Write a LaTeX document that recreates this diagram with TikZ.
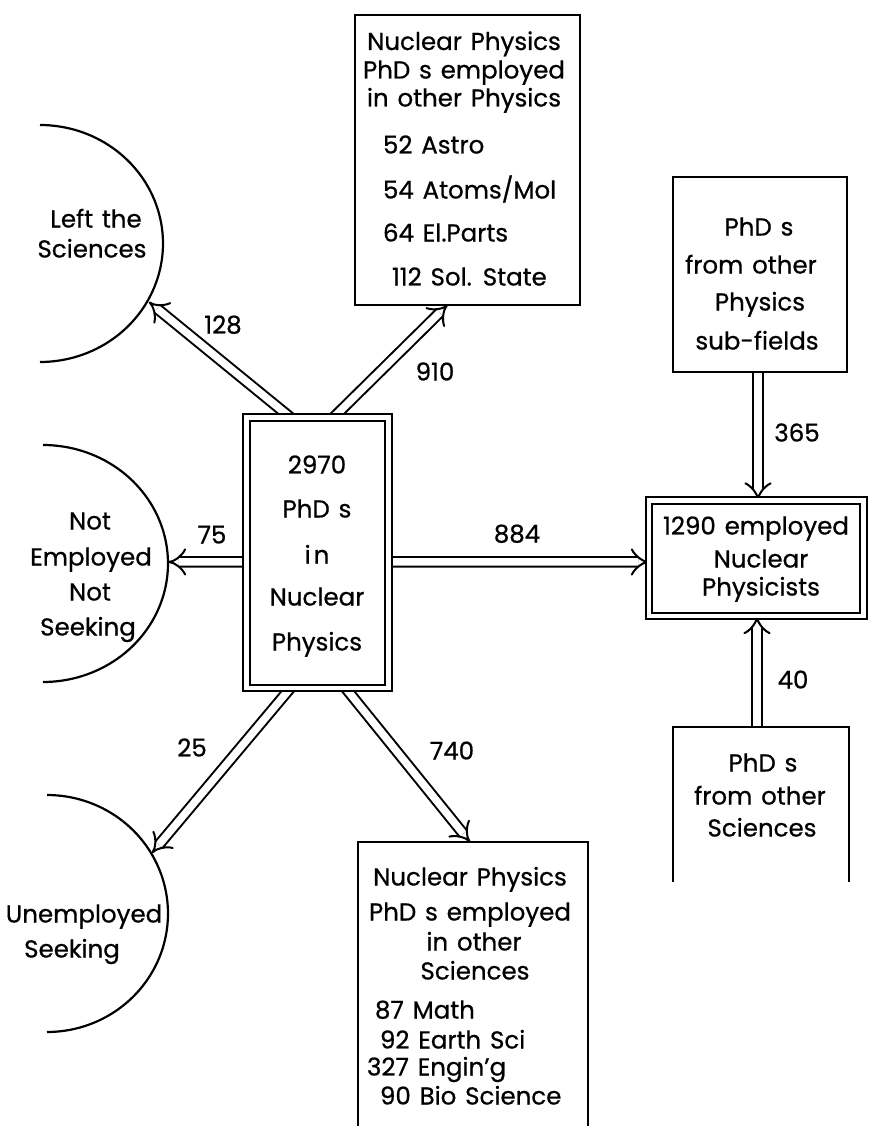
\documentclass[tikz,border=0pt]{standalone}
\usepackage{fontspec}
\setmainfont{Poppins}[FakeBold=0.7]
\usetikzlibrary{arrows.meta,backgrounds}
\newcommand\lnfont{\fontsize{24.5}{24.5}\selectfont\spaceskip=0.36em\relax}
\begin{document}
\begin{tikzpicture}[x=1pt,y=-1pt,
  every node/.style={inner sep=0pt, outer sep=0pt},
  ln/.style={font=\lnfont, text height=17pt, text depth=0pt},
  lnw/.style={ln, anchor=west},
  sbox/.style={draw, line width=2.2pt},
  dbox/.style={draw, double, double distance=4.5pt, line width=2pt},
  sline/.style={line width=2.2pt},
  flow/.style={draw, line width=2pt, double, double distance=7.5pt, -{Implies}}
]
\useasboundingbox (0,0) rectangle (868,1126);

% boxes
\node[dbox, minimum width=142pt, minimum height=270.5pt] (c) at (317.5,552.75) {};
\node[dbox, minimum width=214.5pt, minimum height=115.5pt] (emp) at (756.25,558.25) {};
\node[sbox, minimum width=225pt, minimum height=290pt] (top) at (467.5,160) {};
\node[sbox, minimum width=174pt, minimum height=195pt] (rt) at (760,274.5) {};
\draw[sline] (673,882) -- (673,727) -- (849,727) -- (849,882);
\coordinate (rb) at (757,727);
\draw[sline] (358,1132) -- (358,842) -- (588,842) -- (588,1132);
\coordinate (bb) at (470,842);

% half circles
\draw[sline] plot[domain=-90:90, samples=80] ({40+123*cos(\x)},{243.5+118.5*sin(\x)});
\draw[sline] plot[domain=-90:90, samples=80] ({43+125*cos(\x)},{563.5+118.5*sin(\x)});
\draw[sline] plot[domain=-90:90, samples=80] ({47+121*cos(\x)},{913.5+118.5*sin(\x)});
\coordinate (lsP) at (149,302);
\coordinate (neP) at (168,562);
\coordinate (usP) at (152,853);

% texts: center box
\node[ln] (c1) at (317,465) {2970};
\node[ln] (c2) at (317,509) {PhD s};
\node[ln] (c3) at (317,555) {i\kern3pt n};
\node[ln] (c4) at (317,597) {Nuclear};
\node[ln] (c5) at (317,642) {Physics};

% top box
\node[ln] (t1) at (464,41.5) {Nuclear Physics};
\node[ln] (t2) at (464,70) {PhD s employed};
\node[ln] (t3) at (464,98) {in other Physics};
\node[lnw] (t4) at (383,145) {52 Astro};
\node[lnw] (t5) at (383,190) {54 Atoms/Mol};
\node[lnw] (t6) at (383,233) {64 El.Parts};
\node[lnw] (t7) at (392,277) {112 Sol. State};

% right top box
\node[ln] (r1) at (759,227) {PhD s};
\node[ln] (r2) at (751,265) {from other};
\node[ln] (r3) at (760,302) {Physics};
\node[ln] (r4) at (757,341) {sub-fields};

% employed box
\node[ln] (e1) at (756,526) {1290 employed};
\node[ln] (e2) at (761,559) {Nuclear};
\node[ln] (e3) at (761,587) {Physicists};

% bottom right box
\node[ln] (s1) at (763,763) {PhD s};
\node[ln] (s2) at (760,796) {from other};
\node[ln] (s3) at (762,828) {Sciences};

% bottom box
\node[ln] (b1) at (470,877) {Nuclear Physics};
\node[ln] (b2) at (470,912) {PhD s employed};
\node[ln] (b3) at (474,942) {in other};
\node[ln] (b4) at (475,971) {Sciences};
\node[lnw] (b5) at (375,1010) {87 Math};
\node[lnw] (b6) at (380,1040) {92 Earth Sci};
\node[lnw] (b7) at (367,1067) {327 Engin'g};
\node[lnw] (b8) at (380,1096) {90 Bio Science};

% half-circle texts
\node[ln] (lt1) at (96,219) {Left the};
\node[ln] (lt2) at (92,249) {Sciences};
\node[ln] (ne1) at (90,521) {Not};
\node[ln] (ne2) at (91,557) {Employed};
\node[ln] (ne3) at (90,592) {Not};
\node[ln] (ne4) at (88,627) {Seeking};
\node[ln] (us1) at (84,914) {Unemployed};
\node[ln] (us2) at (72,949) {Seeking};

% flow labels
\node[ln] (l128) at (223,325) {128};
\node[ln] (l910) at (435,372) {910};
\node[ln] (l75) at (212,535) {75};
\node[ln] (l884) at (517,534) {884};
\node[ln] (l25) at (192,748) {25};
\node[ln] (l740) at (452,751) {740};
\node[ln] (l365) at (797,433) {365};
\node[ln] (l40) at (793,680) {40};

% flows
\begin{pgfonlayer}{background}
\draw[flow] ([xshift=-27pt]c.north) -- (lsP);
\draw[flow] ([xshift=16pt]c.north) -- ([xshift=-20pt]top.south);
\draw[flow] ([yshift=-9pt]c.west) -- (neP);
\draw[flow] ([yshift=-9pt]c.east) -- ([yshift=-3.75pt]emp.west);
\draw[flow] ([xshift=-27pt]c.south) -- (usP);
\draw[flow] ([xshift=28pt]c.south) -- (bb);
\draw[flow] ([xshift=-2pt]rt.south) -- ([xshift=-2pt]rt.south |- emp.north);
\draw[flow] (rb) -- (rb |- emp.south);
\end{pgfonlayer}
\end{tikzpicture}
\end{document}
